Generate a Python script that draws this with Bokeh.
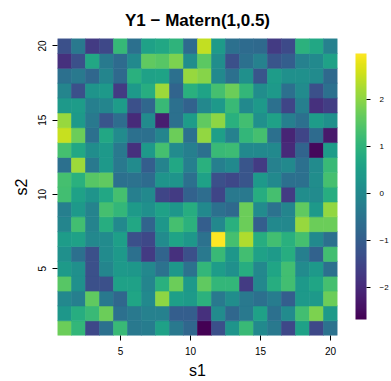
from bokeh.plotting import figure
from bokeh.models import LinearColorMapper, ColorBar, FixedTicker, Range1d, ColumnDataSource
from bokeh.palettes import Viridis256
from bokeh.transform import transform
from bokeh.embed import file_html
from bokeh.resources import INLINE

s1_values = list(range(1, 21))
s2_values = list(range(1, 21))
tick_values = [5, 10, 15, 20]
cbar_ticks = [-2, -1, 0, 1, 2]

# Y1 values, one list per row (s2 = 20 at the top down to s2 = 1)
y20 = [-1.3, -0.4, -1.7, -1.45, 1.1, -0.6, 0.55, 0.7, 1.0, -0.7, 2.45, 0.4, -0.6, -0.7, -0.75, -1.7, -1.4, 0.95, 0.7, -0.2]
y19 = [-1.9, -1.3, 0.7, -0.35, -0.7, 0.0, 1.6, 1.5, 1.85, 0.1, 1.55, 0.1, -1.3, -0.6, -0.2, -1.2, -1.0, -0.2, 0.0, 0.55]
y18 = [-0.6, -0.4, -0.8, -0.1, -0.75, 0.9, 0.55, 0.6, -0.6, 2.1, 1.95, 0.0, -0.6, 0.15, -1.2, 0.45, 0.15, 0.15, 0.05, -0.75]
y17 = [-0.1, -1.3, 0.25, 0.35, -1.7, 0.35, 0.85, 2.15, -0.85, 0.9, 0.6, 1.3, 1.7, 1.05, 0.1, 0.35, -0.6, 0.05, -1.3, -0.6]
y16 = [0.35, 0.45, -0.25, -0.1, 0.45, -1.3, -0.8, 1.15, -0.6, -0.9, -0.05, 0.35, 1.15, 0.0, 0.35, -0.6, -1.5, -0.25, -1.9, -1.65]
y15 = [2.1, 0.35, -0.4, -1.2, -0.65, -2.0, 0.05, -2.2, -0.6, 0.45, 1.6, 2.0, 0.9, 1.25, 0.15, 0.55, -0.25, -0.6, 0.45, 0.15]
y14 = [2.5, 1.7, -0.6, 0.7, 0.05, -0.6, -0.6, -0.1, 1.7, -0.6, 2.05, 0.5, -0.2, 1.05, 1.3, -0.6, -2.1, -1.5, -0.7, -2.3]
y13 = [1.3, 0.7, 0.1, 0.35, -0.4, -1.9, 0.35, 1.3, 0.05, -0.25, -0.6, 1.15, 1.2, 0.0, 0.0, 0.0, -2.0, -0.85, -2.55, 0.45]
y12 = [-0.6, 2.15, -0.4, 0.35, -0.4, 0.05, -1.0, -0.15, 0.7, -0.25, 0.9, -0.25, 0.0, -1.2, -1.7, -0.2, 0.0, -0.6, 0.05, 1.15]
y11 = [1.3, 0.9, 1.5, 1.6, -0.6, -0.55, -0.7, 0.25, 0.25, -0.6, 0.55, -1.3, -1.45, -1.2, 0.35, 0.0, -0.6, -0.6, 0.1, 1.3]
y10 = [1.25, 0.55, 0.25, 0.7, 1.3, -0.25, 0.0, -1.5, -1.7, -0.9, -0.65, -1.5, -0.4, -0.4, 0.85, 1.3, -1.7, 0.1, 0.05, 0.85]
y09 = [-0.25, 0.35, -0.15, 1.3, 1.05, 0.4, 0.15, 0.55, 0.3, 0.85, 0.0, -0.6, -0.75, 1.7, 0.05, -0.55, -0.1, 1.6, 0.35, 2.05]
y08 = [-0.1, 1.25, -0.15, 0.85, 0.0, 0.7, -0.85, 0.3, 1.3, 0.95, -1.0, -0.05, 0.9, 1.7, -1.0, 0.0, -0.05, 2.1, 1.7, 1.7]
y07 = [0.45, 0.55, -0.05, 0.05, 0.5, -1.3, -1.45, 0.05, 0.6, 0.3, -0.55, 2.97, 1.3, 2.3, 0.85, 1.25, 0.9, 1.3, 0.0, -0.6]
y06 = [0.15, -0.6, -1.3, 0.05, 0.35, -0.6, -1.7, -0.85, -1.9, -1.3, -0.4, 1.15, 0.3, 1.25, 0.55, 0.4, 0.85, -0.25, -0.9, 1.25]
y05 = [0.4, 0.15, -1.3, -0.1, 0.35, 0.3, -0.05, -0.55, 0.3, -0.55, 1.05, 0.45, 0.15, 0.85, -0.05, 0.65, 1.25, 0.05, 0.35, -0.6]
y04 = [1.5, 0.15, -1.3, -1.3, 0.55, 0.55, -0.1, 0.9, 1.7, 0.35, 1.6, 1.05, 1.05, -1.7, -0.05, 0.85, 1.25, 0.35, 0.65, 1.3]
y03 = [-0.05, -0.25, 1.6, -0.4, -0.8, 0.65, 0.0, 2.0, 0.5, 0.4, 0.95, -0.4, 0.1, -0.4, -0.6, -0.3, -1.0, 0.35, 0.35, 1.7]
y02 = [0.3, 0.85, 1.15, 1.7, -0.6, -0.4, -0.2, -0.2, -1.0, -1.0, -1.9, 0.05, -0.8, -0.4, 0.55, -0.6, 0.05, 1.25, 1.85, 0.4]
y01 = [1.7, 1.05, -1.45, -0.6, 1.15, -0.4, -0.3, 0.55, -0.4, -0.8, -2.68, -1.3, 0.25, 1.15, 0.0, -0.4, -1.45, 0.55, -1.45, -0.55]

rows = [y01, y02, y03, y04, y05, y06, y07, y08, y09, y10,
        y11, y12, y13, y14, y15, y16, y17, y18, y19, y20]

xs, ys, zs = [], [], []
for s2, row in zip(s2_values, rows):
    for s1, z in zip(s1_values, row):
        xs.append(s1)
        ys.append(s2)
        zs.append(z)
src = ColumnDataSource(dict(x=xs, y=ys, z=zs))

FONT = "Liberation Sans"
mapper = LinearColorMapper(palette=Viridis256, low=min(zs), high=max(zs))

p = figure(width=391, height=381, output_backend="svg", toolbar_location=None,
           x_range=Range1d(0.5, 20.5), y_range=Range1d(0.5, 20.5),
           min_border_left=57, min_border_right=52, min_border_top=38, min_border_bottom=46,
           x_axis_label="s1", y_axis_label="s2")
p.rect(x="x", y="y", width=1, height=1, source=src, dilate=True,
       fill_color=transform("z", mapper), line_color=transform("z", mapper), line_width=0.6)

p.title.text = "Y1 \u2212 Matern(1,0.5)"
p.title.align = "center"
p.title.vertical_align = "top"
p.title.text_font = FONT
p.title.text_font_size = "17px"
p.title.text_font_style = "bold"
p.title.text_color = "black"
p.title.standoff = 13

p.grid.visible = False
p.outline_line_color = None
p.background_fill_color = "white"
p.border_fill_color = "white"

for ax in (p.xaxis[0], p.yaxis[0]):
    ax.ticker = FixedTicker(ticks=tick_values)
    ax.axis_line_color = None
    ax.major_tick_in = 0
    ax.major_tick_out = 5
    ax.minor_tick_line_color = None
    ax.major_tick_line_color = "black"
    ax.major_label_text_font = FONT
    ax.major_label_text_font_size = "10px"
    ax.major_label_text_color = "black"
    ax.major_label_standoff = 6
    ax.axis_label_text_font = FONT
    ax.axis_label_text_font_size = "16px"
    ax.axis_label_text_font_style = "normal"
    ax.axis_label_text_color = "black"
p.yaxis.major_label_orientation = "vertical"
p.xaxis.axis_label_standoff = 4
p.yaxis.axis_label_standoff = 6

cb = ColorBar(color_mapper=mapper, ticker=FixedTicker(ticks=cbar_ticks),
              major_label_overrides={t: (("\u2212" + str(-t)) if t < 0 else str(t)) for t in cbar_ticks},
              width=11, height=266, location=(18, 16), padding=0, margin=0,
              major_tick_in=0, major_tick_out=4, major_tick_line_color="black",
              minor_tick_line_color=None, bar_line_color=None,
              label_standoff=9, major_label_text_font=FONT, major_label_text_font_size="8px",
              major_label_text_color="black", background_fill_alpha=0, border_line_color=None)
p.add_layout(cb, "right")

open("out.html", "w").write(file_html(p, INLINE))
